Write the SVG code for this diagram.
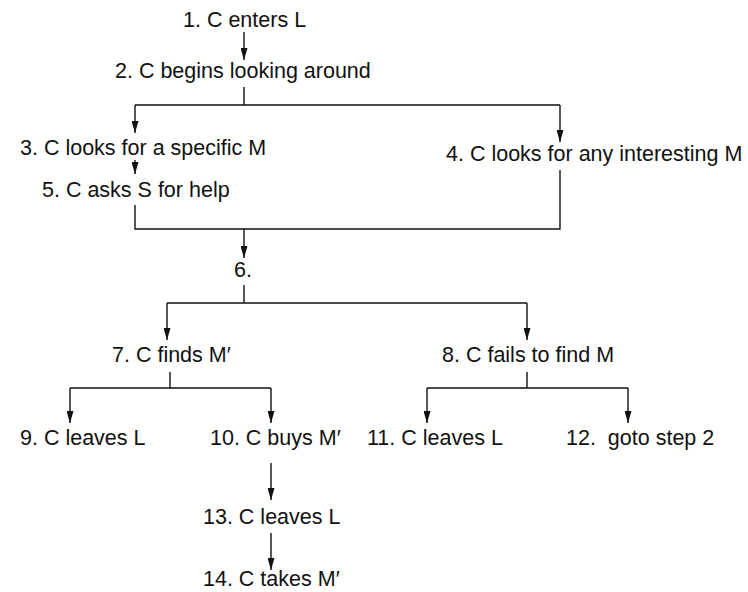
<svg xmlns="http://www.w3.org/2000/svg" width="748" height="592" viewBox="0 0 748 592">
<defs>
<style>
text{font-family:"Liberation Sans",Arial,sans-serif;font-size:21.5px;fill:#111;}
.c{fill:none;stroke:#111;stroke-width:1.4;}
</style>
<marker id="ah" viewBox="0 0 12 7" refX="12" refY="3.5" markerWidth="12" markerHeight="7" markerUnits="userSpaceOnUse" orient="auto">
<path d="M0,0 L12,3.5 L0,7 Z" fill="#111"/>
</marker>
</defs>
<rect width="748" height="592" fill="#fff"/>
<g id="connectors">
<path class="c" d="M244,32 V60" marker-end="url(#ah)"/>
<path class="c" d="M244,87 V105 M135,105 H560"/>
<path class="c" d="M135,105 V133" marker-end="url(#ah)"/>
<path class="c" d="M560,105 V142" marker-end="url(#ah)"/>
<path class="c" d="M135,160 V174" marker-end="url(#ah)"/>
<path class="c" d="M135,205 V229 H560 V170"/>
<path class="c" d="M244,229 V258" marker-end="url(#ah)"/>
<path class="c" d="M244,285 V303 M167,303 H527"/>
<path class="c" d="M167,303 V340" marker-end="url(#ah)"/>
<path class="c" d="M527,303 V340" marker-end="url(#ah)"/>
<path class="c" d="M170,372 V388 M70,388 H271"/>
<path class="c" d="M70,388 V423" marker-end="url(#ah)"/>
<path class="c" d="M271,388 V423" marker-end="url(#ah)"/>
<path class="c" d="M527,372 V388 M427,388 H628"/>
<path class="c" d="M427,388 V423" marker-end="url(#ah)"/>
<path class="c" d="M628,388 V423" marker-end="url(#ah)"/>
<path class="c" d="M271,463 V500" marker-end="url(#ah)"/>
<path class="c" d="M271,533 V570" marker-end="url(#ah)"/>
</g>
<g id="n1"><text x="183" y="27">1. C enters L</text></g>
<g id="n2"><text x="115" y="78">2. C begins looking around</text></g>
<g id="n3"><text x="20" y="155">3. C looks for a specific M</text></g>
<g id="n4"><text x="446" y="161">4. C looks for any interesting M</text></g>
<g id="n5"><text x="42" y="197">5. C asks S for help</text></g>
<g id="n6"><text x="234" y="277">6.</text></g>
<g id="n7"><text x="112" y="362">7. C finds M′</text></g>
<g id="n8"><text x="442" y="362">8. C fails to find M</text></g>
<g id="n9"><text x="20" y="445">9. C leaves L</text></g>
<g id="n10"><text x="210" y="445">10. C buys M′</text></g>
<g id="n11"><text x="367" y="445">11. C leaves L</text></g>
<g id="n12"><text x="566" y="445" xml:space="preserve">12.  goto step 2</text></g>
<g id="n13"><text x="203" y="524">13. C leaves L</text></g>
<g id="n14"><text x="203" y="586">14. C takes M′</text></g>
</svg>
